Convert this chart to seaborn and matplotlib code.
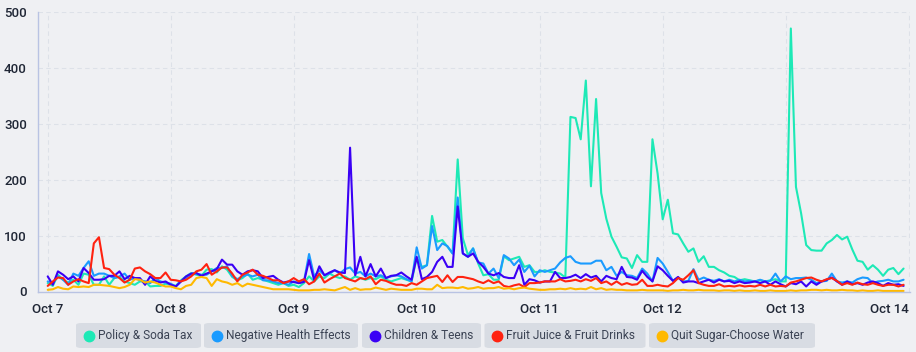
import numpy as np
import pandas as pd
import matplotlib
matplotlib.use("Agg")
import matplotlib.pyplot as plt
from matplotlib.patches import FancyBboxPatch
from matplotlib.lines import Line2D
import seaborn as sns

# ---------------- data (hourly counts, Oct 7 00:00 .. Oct 13 23:00) ----------------
day_labels = ["Oct 7", "Oct 8", "Oct 9", "Oct 10", "Oct 11", "Oct 12", "Oct 13", "Oct 14"]
series_names = ["Policy & Soda Tax", "Negative Health Effects", "Children & Teens",
                "Fruit Juice & Fruit Drinks", "Quit Sugar-Choose Water"]
series_colors = ["#1de9b6", "#1a9bff", "#3a00f5", "#ff2210", "#ffb900"]

policy_soda_tax = (
    [15, 10, 30, 21, 16, 21, 12, 32, 30, 12, 12, 27, 12, 24, 26, 18, 15, 12, 18, 18, 9, 10, 10, 14]
    + [12, 10, 20, 27, 33, 30, 28, 39, 40, 34, 45, 39, 26, 20, 24, 32, 21, 24, 21, 18, 15, 12, 15, 10]
    + [12, 8, 15, 27, 18, 27, 24, 32, 27, 24, 27, 21, 27, 24, 21, 24, 22, 27, 21, 18, 21, 24, 21, 18]
    + [60, 44, 47, 135, 89, 92, 80, 68, 236, 95, 65, 77, 50, 29, 31, 21, 21, 63, 56, 59, 62, 44, 47, 35]
    + [35, 38, 35, 34, 32, 25, 312, 310, 272, 377, 188, 344, 176, 130, 98, 80, 61, 59, 42, 65, 53, 53, 272, 211]
    + [129, 164, 104, 102, 86, 71, 77, 53, 63, 44, 44, 38, 34, 28, 26, 20, 22, 20, 18, 20, 18, 20, 22, 18]
    + [18, 470, 187, 140, 83, 74, 73, 73, 86, 92, 101, 93, 98, 75, 55, 53, 39, 47, 39, 28, 39, 42, 31, 41]
)
negative_health = (
    [18, 15, 27, 21, 12, 32, 28, 42, 54, 28, 32, 32, 28, 24, 27, 32, 21, 24, 20, 18, 15, 24, 18, 16]
    + [14, 9, 18, 24, 30, 32, 30, 30, 36, 42, 42, 45, 28, 22, 27, 30, 27, 30, 20, 20, 18, 15, 15, 12]
    + [18, 15, 18, 67, 27, 38, 29, 32, 38, 32, 40, 43, 32, 35, 27, 32, 27, 29, 24, 27, 29, 27, 22, 18]
    + [79, 41, 47, 117, 74, 86, 81, 68, 168, 68, 62, 77, 52, 50, 32, 41, 24, 65, 59, 47, 57, 35, 46, 27]
    + [38, 35, 38, 41, 52, 60, 63, 53, 50, 50, 50, 55, 55, 38, 44, 28, 35, 29, 28, 24, 41, 32, 18, 60]
    + [50, 35, 19, 25, 18, 19, 40, 21, 25, 21, 19, 22, 18, 21, 18, 21, 18, 19, 18, 21, 18, 19, 32, 18]
    + [27, 22, 24, 24, 25, 21, 15, 18, 19, 32, 18, 16, 18, 16, 22, 25, 24, 15, 18, 19, 21, 18, 18, 21]
)
children_teens = (
    [27, 12, 36, 30, 22, 27, 18, 42, 33, 21, 21, 22, 28, 28, 36, 22, 28, 24, 24, 12, 27, 19, 16, 18]
    + [12, 9, 18, 27, 32, 33, 28, 32, 36, 40, 57, 48, 48, 36, 30, 36, 38, 36, 24, 26, 28, 21, 16, 18]
    + [17, 15, 17, 56, 20, 45, 29, 34, 38, 34, 33, 257, 29, 62, 27, 49, 27, 41, 24, 28, 29, 34, 27, 21]
    + [62, 22, 26, 35, 53, 62, 44, 44, 152, 68, 62, 68, 53, 44, 32, 29, 33, 26, 24, 24, 47, 12, 22, 20]
    + [16, 18, 18, 35, 24, 24, 26, 30, 24, 31, 25, 28, 18, 28, 24, 22, 44, 26, 25, 21, 37, 26, 18, 45]
    + [38, 28, 19, 26, 16, 18, 18, 15, 18, 21, 16, 21, 18, 19, 15, 18, 15, 16, 18, 15, 18, 12, 18, 13]
    + [9, 15, 13, 18, 9, 18, 12, 18, 21, 25, 18, 12, 18, 13, 15, 12, 16, 18, 15, 10, 15, 12, 13, 10]
)
fruit_juice = (
    [10, 18, 25, 24, 12, 18, 22, 18, 15, 86, 97, 42, 40, 30, 24, 16, 21, 41, 43, 36, 31, 24, 24, 34]
    + [21, 20, 18, 21, 27, 36, 39, 49, 30, 36, 43, 43, 32, 18, 30, 34, 39, 30, 28, 24, 20, 20, 15, 18]
    + [24, 18, 22, 13, 18, 32, 16, 22, 27, 32, 24, 21, 18, 24, 22, 27, 13, 21, 19, 15, 12, 12, 10, 15]
    + [12, 18, 24, 26, 28, 17, 29, 17, 26, 26, 24, 22, 18, 15, 20, 15, 18, 10, 8, 11, 13, 8, 15, 15]
    + [16, 18, 18, 18, 22, 18, 19, 21, 18, 22, 19, 24, 15, 18, 12, 18, 12, 15, 12, 13, 21, 10, 10, 12]
    + [10, 9, 15, 24, 21, 29, 38, 15, 12, 10, 10, 13, 9, 10, 9, 11, 9, 10, 9, 12, 9, 12, 9, 10]
    + [9, 16, 18, 21, 24, 25, 21, 18, 22, 24, 19, 12, 15, 12, 16, 13, 12, 15, 12, 10, 12, 12, 9, 12]
)
quit_sugar = (
    [3, 4, 8, 5, 4, 9, 8, 9, 8, 12, 12, 11, 10, 8, 6, 8, 12, 22, 21, 16, 18, 16, 12, 9]
    + [9, 6, 4, 10, 12, 24, 26, 24, 10, 22, 18, 16, 12, 15, 9, 14, 12, 10, 8, 6, 4, 4, 4, 4]
    + [3, 2, 2, 2, 3, 3, 4, 3, 2, 5, 8, 3, 6, 3, 4, 4, 7, 5, 3, 5, 4, 3, 3, 3]
    + [5, 5, 4, 4, 12, 6, 7, 7, 6, 8, 5, 6, 8, 5, 6, 6, 8, 5, 6, 4, 6, 7, 5, 4]
    + [3, 3, 4, 4, 5, 4, 6, 4, 5, 4, 8, 4, 6, 3, 4, 3, 3, 2, 2, 2, 3, 2, 2, 2]
    + [2, 1, 2, 2, 3, 2, 2, 3, 2, 2, 2, 1, 2, 2, 1, 2, 1, 1, 2, 1, 1, 2, 1, 1]
    + [1, 2, 1, 2, 2, 3, 3, 2, 3, 2, 2, 3, 2, 2, 1, 2, 1, 1, 2, 1, 1, 1, 1, 1]
)
y_ticks = [0, 100, 200, 300, 400, 500]

all_series = [policy_soda_tax, negative_health, children_teens, fruit_juice, quit_sugar]
frames = []
for name, vals in zip(series_names, all_series):
    frames.append(pd.DataFrame({"hour": np.arange(len(vals)), "value": vals, "series": name}))
df = pd.concat(frames, ignore_index=True)

# ---------------- style ----------------
BG = "#eff0f3"
GRID = "#dde1e8"
AXIS = "#b9c3e3"
TXT = "#1f2635"

sns.set_theme(style="white")
plt.rcParams["font.family"] = ["Roboto", "DejaVu Sans"]

W, H = 916, 352
fig = plt.figure(figsize=(W / 100, H / 100), dpi=100, facecolor=BG)
ax = fig.add_axes([38 / W, 1 - 291.5 / H, (910 - 38) / W, (291.5 - 11.7) / H])
ax.set_facecolor(BG)

sns.lineplot(data=df, x="hour", y="value", hue="series", hue_order=series_names,
             palette=series_colors, linewidth=1.5, legend=False, ax=ax)

px_per_hour = 5.125
ax.set_xlim(-(47.7 - 38) / px_per_hour, (910 - 47.7) / px_per_hour)
ax.set_ylim(0, 500)

day_pos = [24 * i for i in range(len(day_labels))]
ax.set_xticks(day_pos)
ax.set_xticklabels(day_labels)
ax.set_yticks(y_ticks)
ax.set_yticklabels([str(v) for v in y_ticks])
ax.set_xlabel("")
ax.set_ylabel("")

ax.grid(True, which="major", axis="both", color=GRID, linestyle=(0, (4, 3)), linewidth=0.8)
ax.set_axisbelow(True)
for s in ["top", "right"]:
    ax.spines[s].set_visible(False)
for s in ["left", "bottom"]:
    ax.spines[s].set_color(AXIS)
    ax.spines[s].set_linewidth(1.0)

ax.tick_params(axis="y", length=0, pad=8, labelsize=9.5, labelcolor=TXT)
ax.tick_params(axis="x", length=4, width=0.8, color=AXIS, pad=4, labelsize=9.5, labelcolor=TXT)
for lab in ax.get_yticklabels() + ax.get_xticklabels():
    lab.set_fontweight("medium")
last = ax.get_xticklabels()[-1]
last.set_horizontalalignment("right")

# ---------------- legend (separate rounded chips) ----------------
boxes = [(76, 125), (204, 154), (362, 119), (484.5, 161), (649, 166)]
y0, y1 = 323, 348
for (bx, bw), name, col in zip(boxes, series_names, series_colors):
    patch = FancyBboxPatch((bx / W, 1 - y1 / H), bw / W, (y1 - y0) / H,
                           boxstyle="round,pad=0,rounding_size=0.006",
                           transform=fig.transFigure, facecolor="#d8dce3",
                           edgecolor="none", zorder=1)
    fig.patches.append(patch)
    cy = 1 - (y0 + y1) / 2 / H
    fig.add_artist(Line2D([(bx + 12.5) / W], [cy], marker="o", markersize=7.5,
                          color=col, markeredgecolor=col, linestyle="none",
                          transform=fig.transFigure, zorder=2))
    fig.text((bx + 22) / W, cy, name, ha="left", va="center", fontsize=8.6,
             color="#3b4354", zorder=3)

fig.savefig("out.png", dpi=100, facecolor=BG)
